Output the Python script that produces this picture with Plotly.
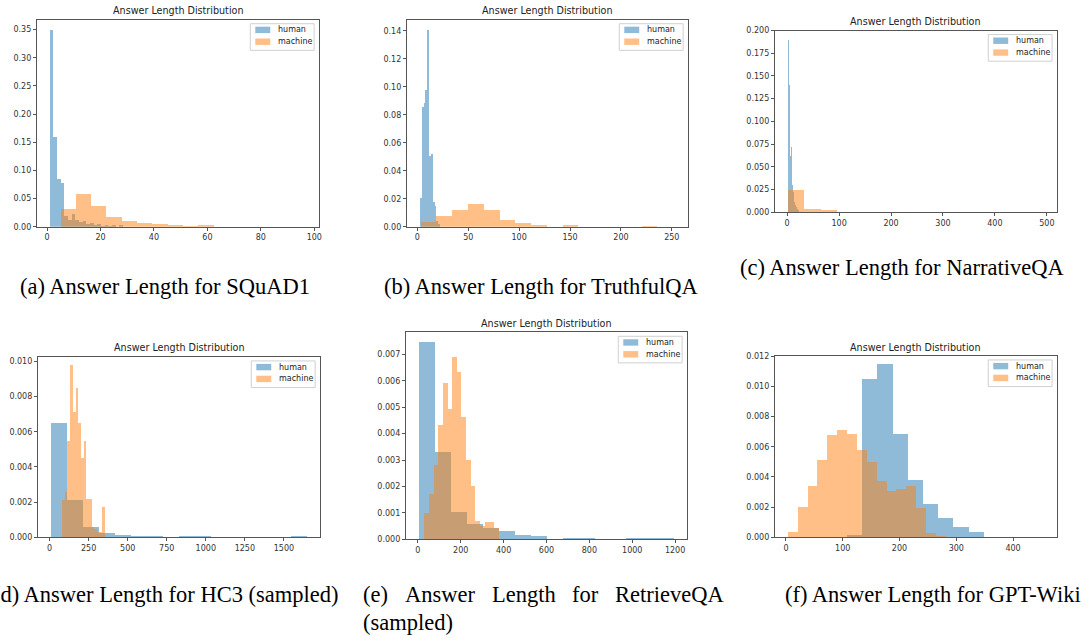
import numpy as np
import plotly.graph_objects as go

# ---------------- data (bin start, bin width, density per bin) ----------------
# (a) SQuAD1
squad_human_start = 1.0
squad_human_width = 1.37
squad_human_density = [0.350, 0.160, 0.085, 0.078, 0.020, 0.013, 0.023, 0.012, 0.009, 0.010,
                       0.005, 0.007, 0.003, 0.006, 0.002, 0.004, 0.002, 0.003, 0.001, 0.003,
                       0.001, 0.001, 0.0008, 0.0005, 0.0005, 0.0003, 0.0003, 0.0002]
squad_machine_start = 5.0
squad_machine_width = 5.73
squad_machine_density = [0.032, 0.059, 0.0367, 0.018, 0.0105, 0.0076, 0.0047, 0.003, 0.002,
                         0.004, 0.0008, 0.0005, 0.0007]

# (b) TruthfulQA
truthful_human_start = 2.4
truthful_human_width = 1.8
truthful_human_density = [0.021, 0.086, 0.089, 0.098, 0.141, 0.051, 0.052, 0.018, 0.015,
                          0.004, 0.002]
truthful_machine_start = 3.1
truthful_machine_width = 15.5
truthful_machine_density = [0.0035, 0.0078, 0.0125, 0.0164, 0.0122, 0.0049, 0.003, 0.0012,
                            0.0004, 0.0015, 0.0003, 0.0002, 0.0004, 0.0001, 0.0005]

# (c) NarrativeQA
narrative_human_start = 1.0
narrative_human_width = 1.6
narrative_human_density = [0.190, 0.118, 0.140, 0.062, 0.072, 0.030, 0.022, 0.015, 0.012,
                           0.008, 0.006, 0.004, 0.003, 0.002]
narrative_machine_start = 2.0
narrative_machine_width = 31.0
narrative_machine_density = [0.0245, 0.0042, 0.003, 0.001, 0.0002, 0.0001, 0.0, 0.0, 0.0, 0.00005]

# (d) HC3 (sampled)
hc3_human_start = 7.0
hc3_human_width = 102.7
hc3_human_density = [0.0065, 0.0021, 0.0006, 0.00026, 0.00015, 0.00008, 0.00008, 0.0,
                     0.00006, 0.00006, 0.0, 0.0, 0.0, 0.0, 0.0, 0.00006]
hc3_machine_start = 79.0
hc3_machine_width = 17.25
hc3_machine_density = [0.0021, 0.0026, 0.0055, 0.0098, 0.0071, 0.0085, 0.0065, 0.0045, 0.0055,
                       0.0022, 0.0022, 0.0006, 0.0005, 0.0003, 0.0003, 0.0017]

# (e) RetrieveQA (sampled)
retrieve_human_start = 4.0
retrieve_human_width = 74.5
retrieve_human_density = [0.00745, 0.0033, 0.00102, 0.00056, 0.0004, 0.00029, 0.00015, 0.0001,
                          0.0, 0.00004, 0.00004, 0.0, 0.0, 0.00003, 0.00003, 0.00003]
retrieve_machine_start = 30.0
retrieve_machine_width = 21.6
retrieve_machine_density = [0.001, 0.0017, 0.0028, 0.0043, 0.0059, 0.0049, 0.0069, 0.0063,
                            0.0046, 0.003, 0.002, 0.0007, 0.0005, 0.00065, 0.00065, 0.0004]

# (f) GPT-Wiki
wiki_human_start = 107.0
wiki_human_width = 26.8
wiki_human_density = [0.00015, 0.0105, 0.01145, 0.00685, 0.00378, 0.00223, 0.00127, 0.0007,
                      0.00033, 0.0, 0.0, 0.0, 0.00002]
wiki_machine_start = 3.0
wiki_machine_width = 17.4
wiki_machine_density = [0.00037, 0.002, 0.00343, 0.00513, 0.00676, 0.00713, 0.00685, 0.00578,
                        0.00502, 0.00371, 0.00305, 0.0032, 0.00343, 0.00194, 0.0003, 0.0001]

series_labels = ["human", "machine"]
panel_title = "Answer Length Distribution"
captions = ["(a) Answer Length for SQuAD1", "(b) Answer Length for TruthfulQA",
            "(c) Answer Length for NarrativeQA", "(d) Answer Length for HC3 (sampled)",
            "(sampled)", "(f) Answer Length for GPT-Wiki"]
caption_e_words = ["(e)", "Answer", "Length", "for", "RetrieveQA"]

# ---------------- layout geometry (pixels) ----------------
W, H = 1089, 643
BLUE = "rgba(31,119,180,0.5)"
ORANGE = "rgba(255,127,14,0.5)"

panels = [
    dict(h=(squad_human_start, squad_human_width, squad_human_density),
         m=(squad_machine_start, squad_machine_width, squad_machine_density),
         box=(37, 320, 16, 226), xr=[-3.8, 101.8], yr=[0, 0.3675],
         xt=[0, 20, 40, 60, 80, 100], yd=0.05, yf=".2f", ty=7),
    dict(h=(truthful_human_start, truthful_human_width, truthful_human_density),
         m=(truthful_machine_start, truthful_machine_width, truthful_machine_density),
         box=(408, 690, 16, 226), xr=[-10.3, 266], yr=[0, 0.148],
         xt=[0, 50, 100, 150, 200, 250], yd=0.02, yf=".2f", ty=7),
    dict(h=(narrative_human_start, narrative_human_width, narrative_human_density),
         m=(narrative_machine_start, narrative_machine_width, narrative_machine_density),
         box=(777, 1060, 27, 211), xr=[-23.7, 519.7], yr=[0, 0.2],
         xt=[0, 100, 200, 300, 400, 500], yd=0.025, yf=".3f", ty=18),
    dict(h=(hc3_human_start, hc3_human_width, hc3_human_density),
         m=(hc3_machine_start, hc3_machine_width, hc3_machine_density),
         box=(38, 321, 358, 541), xr=[-75, 1732], yr=[0, 0.01024],
         xt=[0, 250, 500, 750, 1000, 1250, 1500], yd=0.002, yf=".3f", ty=348),
    dict(h=(retrieve_human_start, retrieve_human_width, retrieve_human_density),
         m=(retrieve_machine_start, retrieve_machine_width, retrieve_machine_density),
         box=(407, 689, 333, 543), xr=[-56, 1256], yr=[0, 0.00783],
         xt=[0, 200, 400, 600, 800, 1000, 1200], yd=0.001, yf=".3f", ty=324),
    dict(h=(wiki_human_start, wiki_human_width, wiki_human_density),
         m=(wiki_machine_start, wiki_machine_width, wiki_machine_density),
         box=(777, 1060, 357, 541), xr=[-19.6, 477.6], yr=[0, 0.012],
         xt=[0, 100, 200, 300, 400], yd=0.002, yf=".3f", ty=348),
]

def px(x):
    return x / W

def py(y):
    return 1 - y / H

fig = go.Figure()
shapes = []
annotations = []
tick_font = dict(family="DejaVu Sans", size=8, color="#333333")

for i, p in enumerate(panels, start=1):
    sfx = "" if i == 1 else str(i)
    for (start, width, dens), color, name in ((p["h"], BLUE, series_labels[0]),
                                               (p["m"], ORANGE, series_labels[1])):
        dens = np.asarray(dens, dtype=float)
        left = start + width * np.arange(len(dens))
        fig.add_trace(go.Bar(x=left, y=dens, width=width, offset=0, name=name,
                             marker=dict(color=color, line=dict(width=0)),
                             xaxis="x" + sfx, yaxis="y" + sfx, showlegend=False))
    L, R, T, B = p["box"]
    fig.layout["xaxis" + sfx] = dict(
        domain=[px(L), px(R)], anchor="y" + sfx, range=p["xr"], tickvals=p["xt"],
        showline=True, mirror=True, linecolor="#555555", linewidth=1,
        ticks="outside", ticklen=3, tickwidth=1, tickcolor="#555555",
        showgrid=False, zeroline=False, tickfont=tick_font)
    fig.layout["yaxis" + sfx] = dict(
        domain=[py(B), py(T)], anchor="x" + sfx, range=p["yr"], tick0=0, dtick=p["yd"],
        tickformat=p["yf"], showline=True, mirror=True, linecolor="#555555", linewidth=1,
        ticks="outside", ticklen=3, tickwidth=1, tickcolor="#555555",
        showgrid=False, zeroline=False, tickfont=tick_font)
    # panel title
    annotations.append(dict(text=panel_title, xref="paper", yref="paper",
                            x=px((L + R) / 2), y=py(p["ty"]), xanchor="center", yanchor="middle",
                            showarrow=False, font=dict(family="DejaVu Sans", size=9.6, color="#222222")))
    # legend box (matplotlib style, upper right)
    br = R - 5
    bl = br - 64
    bt = T + 4
    bb = bt + 27
    shapes.append(dict(type="rect", xref="paper", yref="paper", x0=px(bl), x1=px(br),
                       y0=py(bb), y1=py(bt), line=dict(color="#d0d0d0", width=1),
                       fillcolor="rgba(255,255,255,0.8)", layer="above"))
    for k, (col, lab) in enumerate(((BLUE, series_labels[0]), (ORANGE, series_labels[1]))):
        y0 = bt + 3 + 12 * k
        shapes.append(dict(type="rect", xref="paper", yref="paper", x0=px(bl + 5), x1=px(bl + 20),
                           y0=py(y0 + 6.5), y1=py(y0), line=dict(width=0), fillcolor=col,
                           layer="above"))
        annotations.append(dict(text=lab, xref="paper", yref="paper", x=px(bl + 26),
                                y=py(y0 + 3.3), xanchor="left", yanchor="middle", showarrow=False,
                                font=dict(family="DejaVu Sans", size=8, color="#222222")))

# captions
cap_font = dict(family="Liberation Serif", size=22.5, color="black")
cap_pos = [(165, 287, "center"), (542, 287, "center"), (904, 267, "center"),
           (-9, 599, "left"), (362, 627, "left"), (936, 599, "center")]
for text, (cx, cy, anc) in zip(captions, cap_pos):
    annotations.append(dict(text=text, xref="paper", yref="paper", x=px(cx), y=py(cy),
                            xanchor=anc, yanchor="middle", showarrow=False, font=cap_font))
# justified first line of caption (e)
e_word_left = [362, 404, 491, 572, 615]
for word, wx in zip(caption_e_words, e_word_left):
    annotations.append(dict(text=word, xref="paper", yref="paper", x=px(wx), y=py(599),
                            xanchor="left", yanchor="middle", showarrow=False, font=cap_font))

fig.update_layout(width=W, height=H, margin=dict(l=0, r=0, t=0, b=0),
                  paper_bgcolor="white", plot_bgcolor="white", barmode="overlay",
                  bargap=0, showlegend=False, shapes=shapes, annotations=annotations)

fig.write_html("out.html")
